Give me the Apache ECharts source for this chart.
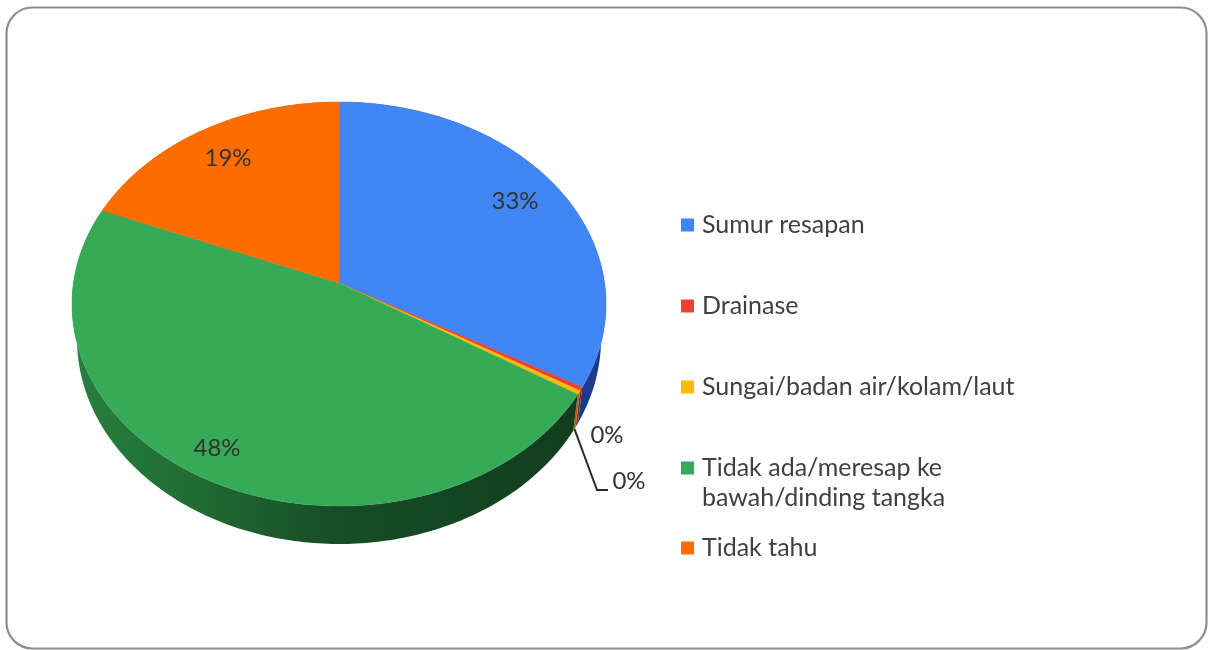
<!DOCTYPE html>
<html>
<head>
<meta charset="utf-8">
<title>Pie</title>
<script src="https://cdn.jsdelivr.net/npm/echarts@6/dist/echarts.min.js"></script>
<style>
  html, body { margin: 0; padding: 0; background: #fff; }
  #chart { width: 1208px; height: 650px; }
</style>
</head>
<body>
<div id="chart"></div>
<script>
var categories = ['Sumur resapan', 'Drainase', 'Sungai/badan air/kolam/laut', 'Tidak ada/meresap ke bawah/dinding tangka', 'Tidak tahu'];
var shares = [33.1, 0.3, 0.3, 47.6, 18.7];
var topColors = ['#4285f4', '#ea4335', '#fbbc04', '#37aa58', '#ff6d01'];
var wallColors = ['#1a3c8c', '#8e2a20', '#b5600e', '#1a5a2c', '#a84a05'];

// the picture is a tilted pie: the slices meet above the middle of the ellipse
var face = { cx: 339, cy: 304, rx: 267, ry: 202 };
var base = { cx: 339, cy: 339, rx: 262, ry: 205 };
var tilt = 0.91;
var labelFont = '24px Lato, sans-serif';
var labelSpots = [[515, 201], [607, 435], [629, 481], [217, 448], [228, 158]];
var leaderElbow = [[597, 490], [608, 490]];
var legendTops = [210, 291, 372, 423, 533];

var total = shares.reduce(function (a, b) { return a + b; }, 0);

// true angle on the pie -> angle on the drawn ellipse
function warp(t) {
    var turns = Math.floor((t + Math.PI) / (2 * Math.PI));
    var r = t - turns * 2 * Math.PI;
    return 2 * Math.atan(tilt * Math.tan(r / 2)) + turns * 2 * Math.PI;
}

function rim(e, t) {
    var p = warp(t);
    return [e.cx + e.rx * Math.sin(p), e.cy - e.ry * Math.cos(p)];
}

function arc(e, a, b) {
    var n = Math.max(2, Math.ceil((b - a) * 60));
    var pts = [];
    for (var i = 0; i <= n; i++) {
        pts.push(rim(e, a + (b - a) * i / n));
    }
    return pts;
}

function renderSlice(index) {
    return function (params, api) {
        var before = 0;
        for (var i = 0; i < index; i++) before += shares[i];
        var a = before / total * 2 * Math.PI;
        var b = (before + api.value(0)) / total * 2 * Math.PI;
        var mid = (a + b) / 2;
        var apex = [face.cx, face.cy - face.ry * (1 - tilt) * 1.15];
        var top = arc(face, a, b);
        var wall = top.concat(arc(base, a, b).reverse());
        var fill = topColors[index];
        var wallFill = wallColors[index];
        if (index === 3) {
            wallFill = new echarts.graphic.LinearGradient(72, 0, 600, 0, [
                { offset: 0, color: '#27803f' },
                { offset: 0.25, color: '#1f6a33' },
                { offset: 0.5, color: '#164d26' },
                { offset: 1, color: '#123c1e' }
            ], true);
        }
        var children = [
            { type: 'polygon', z2: 1, shape: { points: wall }, style: { fill: wallFill } },
            { type: 'polygon', z2: 10, shape: { points: [apex].concat(top) },
              style: { fill: fill, stroke: fill, lineWidth: 0.5 } },
            { type: 'text', z2: 20, x: labelSpots[index][0], y: labelSpots[index][1],
              style: { text: Math.round(api.value(0)) + '%', font: labelFont, fill: '#333',
                       align: 'center', verticalAlign: 'middle' } }
        ];
        if (index === 2) {
            children.push({ type: 'polyline', z2: 15,
                shape: { points: [rim(base, mid)].concat(leaderElbow) },
                style: { fill: 'none', stroke: '#2a2a2a', lineWidth: 2 } });
        }
        return { type: 'group', children: children };
    };
}

var chart = echarts.init(document.getElementById('chart'));

var option = {
    animation: false,
    graphic: [{
        type: 'rect', z: -1,
        shape: { x: 6.5, y: 7.5, width: 1200, height: 641, r: 26 },
        style: { fill: '#fff', stroke: '#8f8f8f', lineWidth: 2.2 }
    }],
    legend: categories.map(function (name, i) {
        return {
            data: [name],
            orient: 'vertical',
            left: 681,
            top: legendTops[i],
            padding: 0,
            itemWidth: 13,
            itemHeight: 13,
            icon: 'rect',
            selectedMode: false,
            formatter: function (n) {
                return n.indexOf(' bawah') > 0 ? '\n' + n.replace(' bawah', '\nbawah') : n;
            },
            textStyle: { fontFamily: 'Lato, sans-serif', fontSize: 25, color: '#404040', lineHeight: 30, padding: [0, 0, 0, 3] }
        };
    }),
    series: categories.map(function (name, i) {
        return {
            type: 'custom',
            name: name,
            coordinateSystem: 'none',
            silent: true,
            itemStyle: { color: topColors[i] },
            data: [[shares[i]]],
            renderItem: renderSlice(i)
        };
    })
};

chart.setOption(option);

window.onresize = function () {
    chart.resize();
};
</script>
</body>
</html>
